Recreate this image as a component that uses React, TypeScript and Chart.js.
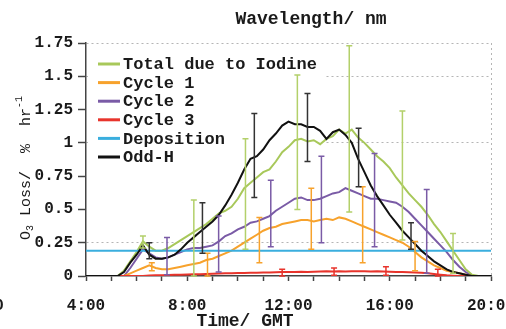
import React, { useEffect, useRef } from "react";
import { Chart, registerables } from "chart.js";

Chart.register(...registerables);

const FONT = "'Liberation Mono', 'Courier New', monospace";

const hours = [
  4, 4.25, 4.5, 4.75,
  5, 5.25, 5.5, 5.75,
  6, 6.25, 6.5, 6.75,
  7, 7.25, 7.5, 7.75,
  8, 8.25, 8.5, 8.75,
  9, 9.25, 9.5, 9.75,
  10, 10.25, 10.5, 10.75,
  11, 11.25, 11.5, 11.75,
  12, 12.25, 12.5, 12.75,
  13, 13.25, 13.5, 13.75,
  14, 14.25, 14.5, 14.75,
  15, 15.25, 15.5, 15.75,
  16, 16.25, 16.5, 16.75,
  17, 17.25, 17.5, 17.75,
  18, 18.25, 18.5, 18.75,
  19, 19.25, 19.5, 19.75,
  20,
];

const totalIodine = [
  0, 0, 0, 0,
  0, 0, 0.04, 0.11,
  0.18, 0.26, 0.22, 0.19,
  0.19, 0.21, 0.24, 0.27,
  0.3, 0.33, 0.36, 0.39,
  0.43, 0.47, 0.49, 0.52,
  0.58, 0.66, 0.7, 0.74,
  0.78, 0.8, 0.86, 0.93,
  0.97, 1.02, 1.03, 1.01,
  1.02, 0.99, 1.03, 1.05,
  1.1, 1.07, 1.1, 1.04,
  1.0, 0.95, 0.9, 0.86,
  0.81, 0.74, 0.68, 0.62,
  0.57, 0.52, 0.46, 0.39,
  0.33, 0.26, 0.19, 0.12,
  0.05, 0.01, 0, 0,
  0,
];

const cycle1 = [
  0, 0, 0, 0,
  0, 0, 0, 0.02,
  0.04, 0.06, 0.08, 0.06,
  0.05, 0.05, 0.06, 0.07,
  0.08, 0.09, 0.1, 0.12,
  0.13, 0.15, 0.17, 0.19,
  0.22, 0.25, 0.28, 0.31,
  0.34, 0.36, 0.37, 0.39,
  0.4, 0.41, 0.42, 0.42,
  0.41, 0.42, 0.43, 0.42,
  0.44, 0.43, 0.41, 0.39,
  0.37, 0.35, 0.33, 0.31,
  0.29, 0.27, 0.25, 0.22,
  0.18, 0.14, 0.11, 0.08,
  0.06, 0.04, 0.03, 0.02,
  0.01, 0, 0, 0,
  0,
];

const cycle2 = [
  0, 0, 0, 0,
  0, 0, 0, 0.06,
  0.13, 0.2, 0.17, 0.14,
  0.13, 0.14, 0.16, 0.18,
  0.2, 0.21, 0.21, 0.22,
  0.23, 0.26, 0.3, 0.32,
  0.35, 0.37, 0.4, 0.41,
  0.43, 0.45, 0.49, 0.52,
  0.55, 0.58, 0.59, 0.57,
  0.57, 0.58, 0.6, 0.62,
  0.63, 0.66, 0.64, 0.62,
  0.6, 0.58, 0.58, 0.57,
  0.56, 0.55, 0.52, 0.48,
  0.43, 0.38, 0.33, 0.28,
  0.23, 0.18, 0.12, 0.07,
  0.03, 0, 0, 0,
  0,
];

const cycle3 = [
  0, 0, 0, 0,
  0, 0, 0, 0,
  0, 0, 0.004, 0.005,
  0.006, 0.008, 0.01, 0.01,
  0.012, 0.013, 0.014, 0.015,
  0.016, 0.018, 0.02, 0.02,
  0.022, 0.022, 0.024, 0.025,
  0.026, 0.027, 0.028, 0.03,
  0.03, 0.03, 0.032, 0.03,
  0.032, 0.033, 0.035, 0.034,
  0.035, 0.034, 0.035, 0.036,
  0.035, 0.034, 0.035, 0.033,
  0.032, 0.03, 0.03, 0.028,
  0.026, 0.024, 0.02, 0.015,
  0.01, 0.005, 0.002, 0,
  0, 0, 0, 0,
  0,
];

const oddH = [
  0, 0, 0, 0,
  0, 0, 0.03, 0.1,
  0.16, 0.23, 0.16, 0.13,
  0.13, 0.14, 0.16, 0.2,
  0.25, 0.29, 0.33, 0.37,
  0.41, 0.46, 0.53, 0.61,
  0.7, 0.8, 0.88, 0.9,
  0.95, 1.02, 1.07, 1.13,
  1.16, 1.14, 1.14, 1.12,
  1.12, 1.09, 1.03, 1.08,
  1.1, 1.06, 1.0, 0.88,
  0.78, 0.68, 0.6, 0.53,
  0.46, 0.4, 0.34, 0.29,
  0.24, 0.19, 0.15, 0.11,
  0.08, 0.05, 0.03, 0.02,
  0.01, 0, 0, 0,
  0,
];

const depositionHours = [4, 20];
const deposition = [0.19, 0.19];

const seriesLabels = ["Total due to Iodine", "Cycle 1", "Cycle 2", "Cycle 3", "Deposition", "Odd-H"];
const seriesColors = ["#a8c85a", "#f7a22c", "#7a5ba6", "#e8342c", "#3aaede", "#111111"];

// error bars
const totalErrHours = [6.25, 8.26, 10.3, 12.35, 14.4, 16.5, 18.5];
const totalErrLow = [0.21, 0.0, 0.2, 0.5, 0.48, 0.27, 0.02];
const totalErrHigh = [0.3, 0.57, 1.03, 1.51, 1.73, 1.24, 0.32];

const cycle1ErrHours = [6.6, 8.8, 10.85, 12.9, 14.93, 17.0];
const cycle1ErrLow = [0.04, 0.0, 0.1, 0.2, 0.1, 0.04];
const cycle1ErrHigh = [0.1, 0.17, 0.44, 0.66, 0.67, 0.26];

const cycle2ErrHours = [7.2, 9.24, 11.3, 13.3, 15.4, 17.46];
const cycle2ErrLow = [0.01, 0.03, 0.22, 0.25, 0.22, 0.02];
const cycle2ErrHigh = [0.29, 0.45, 0.72, 0.9, 0.92, 0.65];

const cycle3ErrHours = [11.75, 13.8, 15.85, 17.9];
const cycle3ErrLow = [0, 0.005, 0.005, 0];
const cycle3ErrHigh = [0.05, 0.06, 0.07, 0.05];

const oddHErrHours = [6.5, 8.6, 10.65, 12.75, 14.77, 16.84];
const oddHErrLow = [0.13, 0.17, 0.59, 0.86, 0.67, 0.2];
const oddHErrHigh = [0.25, 0.55, 1.22, 1.37, 1.11, 0.4];

const yTicks = [0, 0.25, 0.5, 0.75, 1, 1.25, 1.5, 1.75];
const yTickLabels = ["0", "0.25", "0.5", "0.75", "1", "1.25", "1.5", "1.75"];
const yGridValues = [0.25, 1, 1.5, 1.75];
const xLabelHours = [0, 4, 8, 12, 16, 20];
const xLabels = ["0:00", "4:00", "8:00", "12:00", "16:00", "20:00"];

const errorSets = [
  { color: "#b3d06a", at: totalErrHours, low: totalErrLow, high: totalErrHigh },
  { color: "#f7a22c", at: cycle1ErrHours, low: cycle1ErrLow, high: cycle1ErrHigh },
  { color: "#7a5ba6", at: cycle2ErrHours, low: cycle2ErrLow, high: cycle2ErrHigh },
  { color: "#e8342c", at: cycle3ErrHours, low: cycle3ErrLow, high: cycle3ErrHigh },
  { color: "#333333", at: oddHErrHours, low: oddHErrLow, high: oddHErrHigh },
];

const pts = (xs: number[], ys: number[]) => xs.map((x, i) => ({ x, y: ys[i] }));

const overlay = {
  id: "overlay",
  beforeDatasetsDraw(chart: any) {
    const { ctx, chartArea } = chart;
    ctx.save();
    ctx.fillStyle = "#ffffff";
    ctx.fillRect(chartArea.left + 2, 48, 325 - chartArea.left - 2, 120);
    ctx.font = `bold 17px ${FONT}`;
    ctx.textBaseline = "middle";
    ctx.textAlign = "left";
    seriesLabels.forEach((lab, i) => {
      const yy = 64 + i * 18.6;
      ctx.strokeStyle = seriesColors[i];
      ctx.lineWidth = 3;
      ctx.beginPath();
      ctx.moveTo(98, yy);
      ctx.lineTo(120, yy);
      ctx.stroke();
      ctx.fillStyle = "#1a1a1a";
      ctx.fillText(lab, 123, yy + 1);
    });
    ctx.restore();
  },
  afterDatasetsDraw(chart: any) {
    const { ctx, scales } = chart;
    const xs = scales.x;
    const ys = scales.y;
    errorSets.forEach((es) => {
      ctx.save();
      ctx.strokeStyle = es.color;
      ctx.lineWidth = 1.5;
      es.at.forEach((h, i) => {
        const px = xs.getPixelForValue(h);
        const top = ys.getPixelForValue(es.high[i]);
        const bot = ys.getPixelForValue(es.low[i]);
        ctx.beginPath();
        ctx.moveTo(px, top);
        ctx.lineTo(px, bot);
        ctx.moveTo(px - 3, top);
        ctx.lineTo(px + 3, top);
        ctx.moveTo(px - 3, bot);
        ctx.lineTo(px + 3, bot);
        ctx.stroke();
      });
      ctx.restore();
    });
  },
  afterDraw(chart: any) {
    const { ctx, scales } = chart;
    const xs = scales.x;
    ctx.save();
    ctx.fillStyle = "#1a1a1a";
    ctx.textBaseline = "middle";
    ctx.textAlign = "center";
    ctx.font = `bold 16px ${FONT}`;
    xLabelHours.forEach((h, i) => {
      ctx.fillText(xLabels[i], xs.getPixelForValue(h), 306);
    });
    ctx.font = `bold 18px ${FONT}`;
    ctx.fillText("Wavelength/ nm", 311, 19);
    ctx.fillText("Time/ GMT", 245, 321);

    // y title with sub/superscripts
    ctx.translate(25, 168);
    ctx.rotate(-Math.PI / 2);
    ctx.textAlign = "left";
    ctx.textBaseline = "alphabetic";
    const big = `15px ${FONT}`;
    const small = `10px ${FONT}`;
    const parts = [
      { t: "O", f: big, dy: 0 },
      { t: "3", f: small, dy: 3 },
      { t: " Loss/  %  hr", f: big, dy: 0 },
      { t: "-1", f: small, dy: -8 },
    ];
    let total = 0;
    parts.forEach((p) => {
      ctx.font = p.f;
      total += ctx.measureText(p.t).width;
    });
    let cx = -total / 2;
    parts.forEach((p) => {
      ctx.font = p.f;
      ctx.fillText(p.t, cx, 5 + p.dy);
      cx += ctx.measureText(p.t).width;
    });
    ctx.restore();
  },
};

export default function App() {
  const ref = useRef<HTMLCanvasElement | null>(null);
  useEffect(() => {
    if (!ref.current) return;
    const chart = new Chart(ref.current, {
      type: "line",
      data: {
        datasets: [
          { label: seriesLabels[0], data: pts(hours, totalIodine), borderColor: seriesColors[0], borderWidth: 2, pointRadius: 0, order: 3 },
          { label: seriesLabels[1], data: pts(hours, cycle1), borderColor: seriesColors[1], borderWidth: 2, pointRadius: 0, order: 4 },
          { label: seriesLabels[2], data: pts(hours, cycle2), borderColor: seriesColors[2], borderWidth: 2, pointRadius: 0, order: 4 },
          { label: seriesLabels[3], data: pts(hours, cycle3), borderColor: seriesColors[3], borderWidth: 2, pointRadius: 0, order: 2 },
          { label: seriesLabels[4], data: pts(depositionHours, deposition), borderColor: seriesColors[4], borderWidth: 2, pointRadius: 0, order: 1 },
          { label: seriesLabels[5], data: pts(hours, oddH), borderColor: seriesColors[5], borderWidth: 2, pointRadius: 0, order: 0 },
        ],
      },
      options: {
        animation: false,
        responsive: false,
        parsing: true,
        layout: { padding: { top: 43, right: 15, left: 0, bottom: 0 } },
        plugins: { legend: { display: false }, title: { display: false }, tooltip: { enabled: false } },
        elements: { line: { tension: 0 } },
        scales: {
          x: {
            type: "linear",
            min: 4,
            max: 20,
            afterFit: (s: any) => { s.height = 53; },
            ticks: { display: false, stepSize: 1, maxTicksLimit: 100 },
            grid: {
              color: (c: any) => (c.tick && c.tick.value === 20 ? "#b5b5b5" : "rgba(0,0,0,0)"),
              lineWidth: 1,
              tickLength: 5,
              tickColor: "#444",
              tickWidth: 1.5,
            },
            border: { color: "#444", width: 1.5, dash: [2, 3] },
          },
          y: {
            type: "linear",
            min: 0,
            max: 1.75,
            afterFit: (s: any) => { s.width = 86; },
            ticks: {
              stepSize: 0.25,
              padding: 5,
              color: "#1a1a1a",
              font: { family: FONT, size: 16, weight: "bold" },
              callback: (v: any) => {
                const i = yTicks.indexOf(Number(v));
                return i >= 0 ? yTickLabels[i] : "";
              },
            },
            grid: {
              color: (c: any) => (c.tick && yGridValues.includes(c.tick.value) ? "#b5b5b5" : "rgba(0,0,0,0)"),
              lineWidth: 1,
              tickLength: 8,
              tickColor: "#444",
              tickWidth: 1.5,
            },
            border: { color: "#444", width: 1.5, dash: [2, 3] },
          },
        },
      },
      plugins: [overlay],
    } as any);
    return () => chart.destroy();
  }, []);
  return (
    <div style={{ position: "absolute", left: 0, top: 0, width: 506, height: 329 }}>
      <canvas ref={ref} width={506} height={329} />
    </div>
  );
}
